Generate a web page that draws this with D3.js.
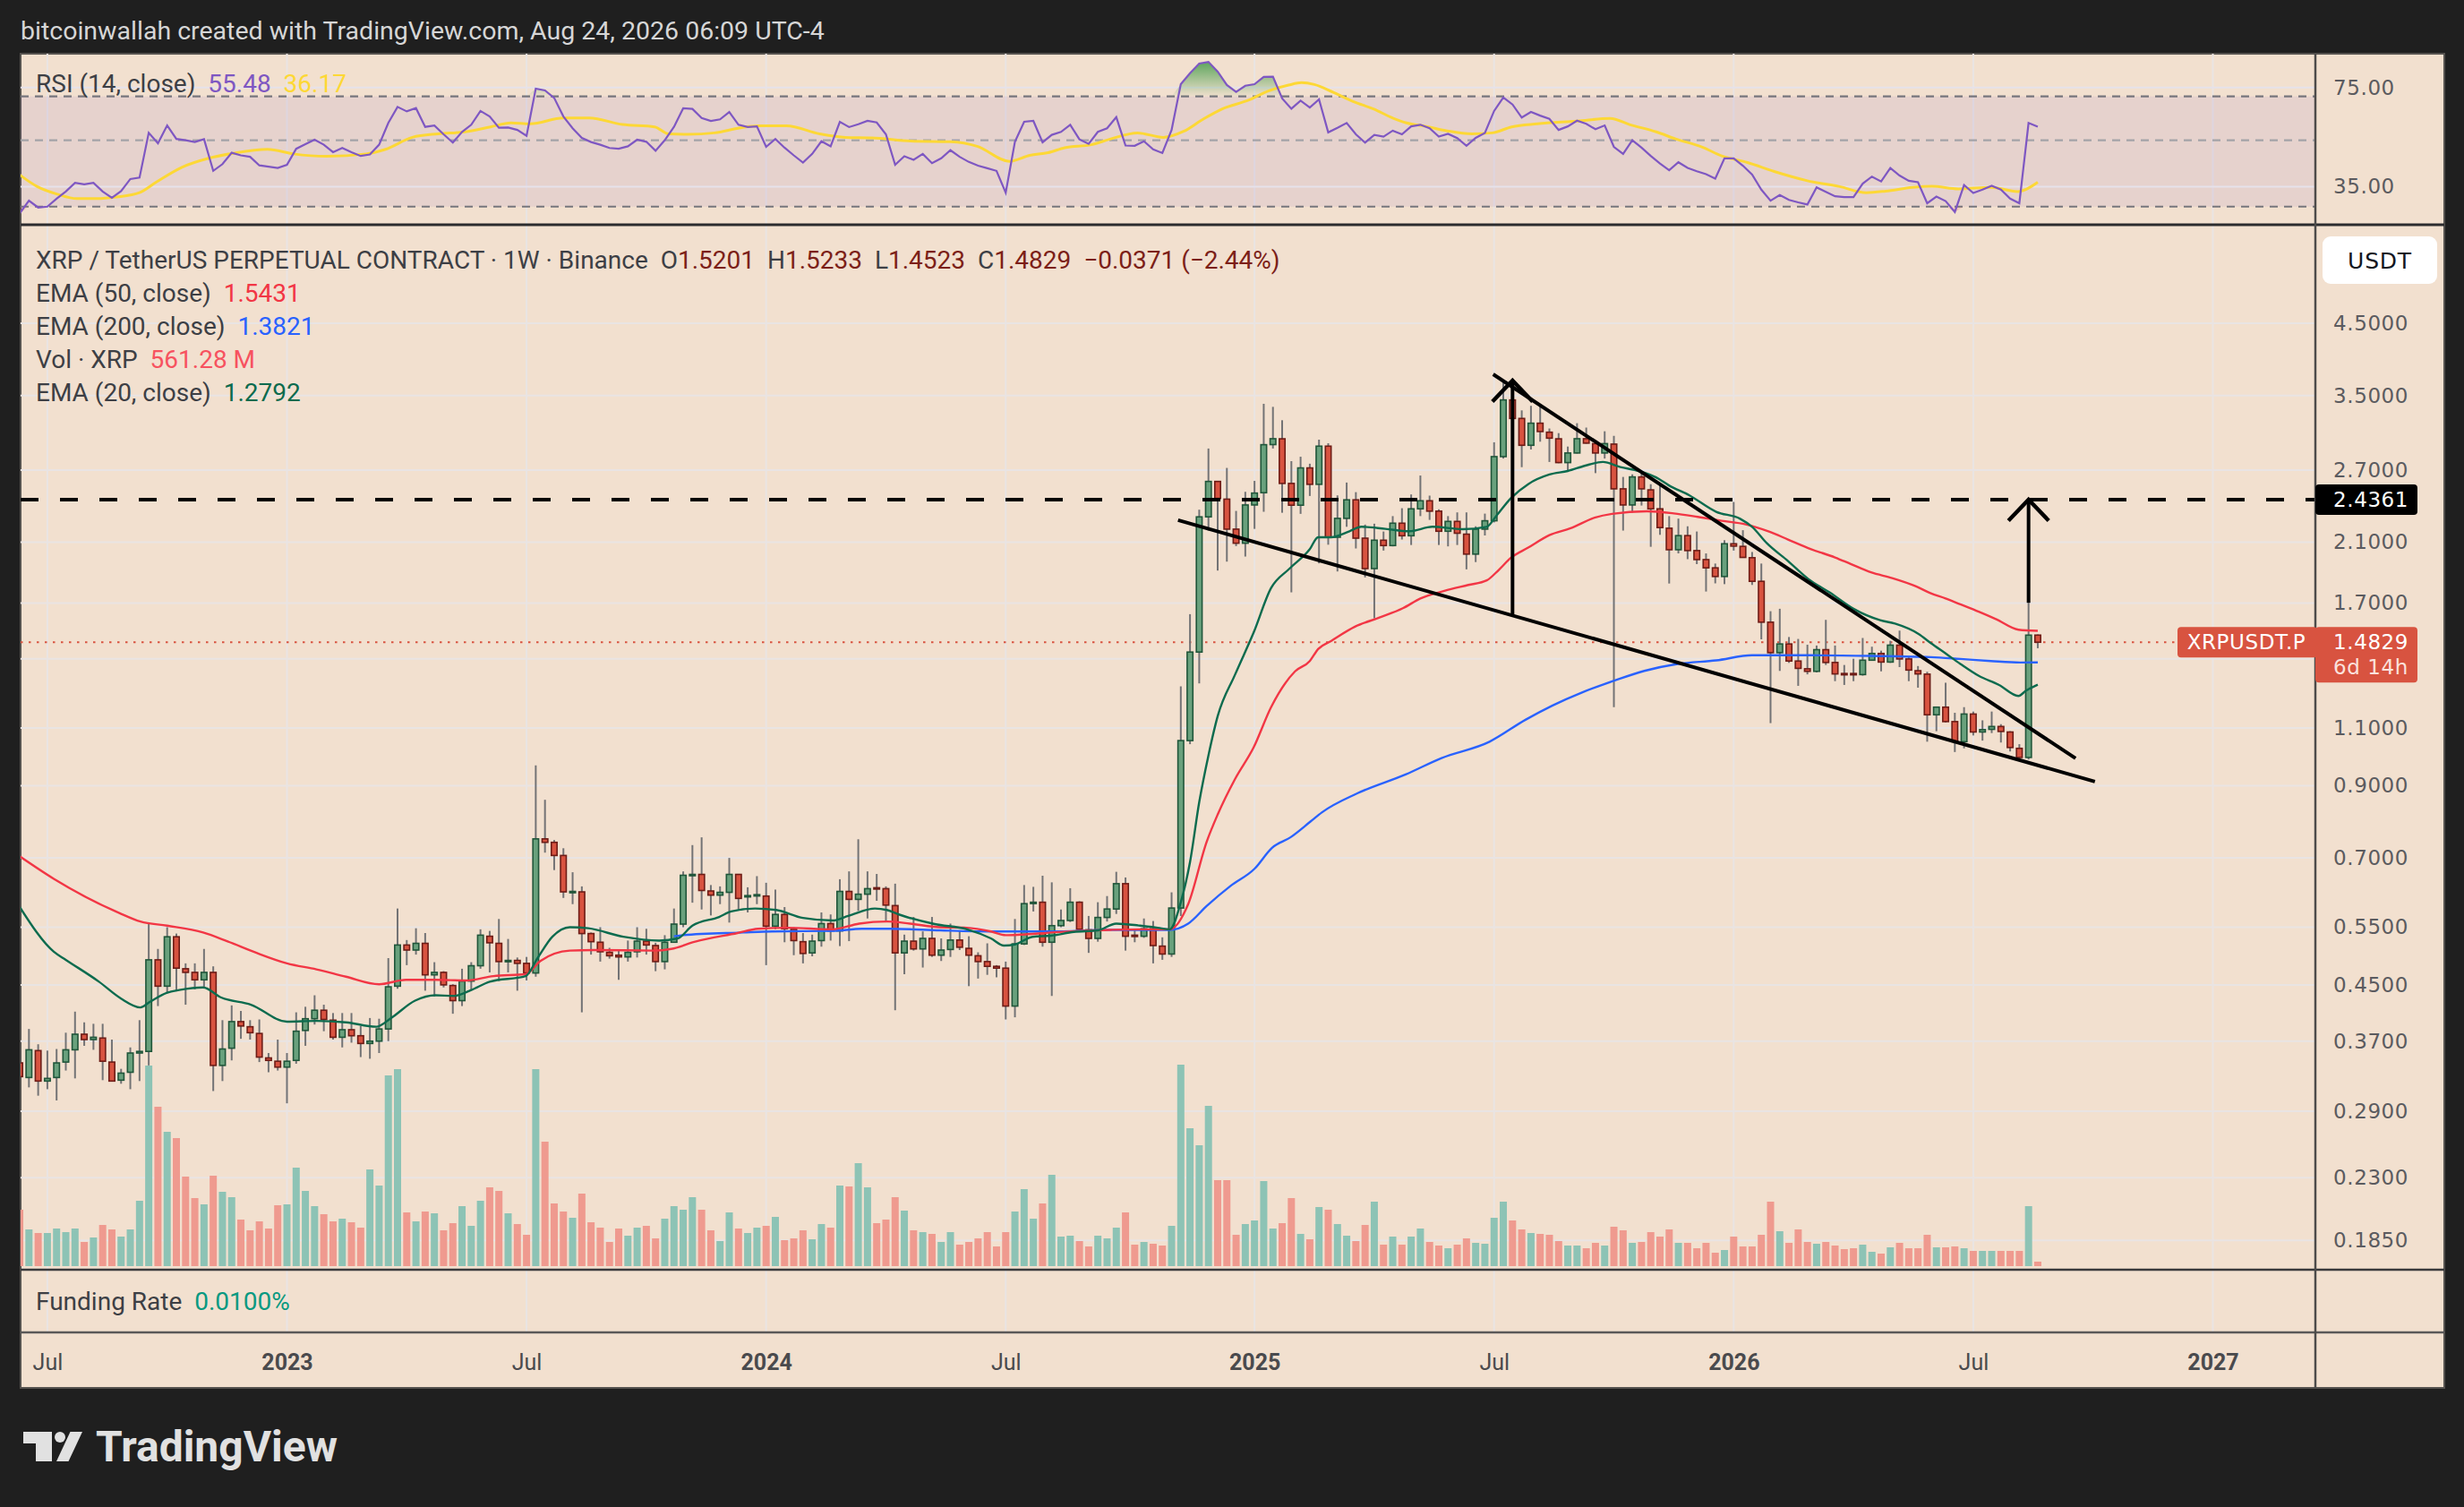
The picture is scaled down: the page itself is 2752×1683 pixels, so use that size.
<!DOCTYPE html>
<html>
<head>
<meta charset="utf-8">
<script src="https://cdn.jsdelivr.net/npm/d3@7"></script>
<style>
html, body { margin: 0; padding: 0; background: #1f1f1f; }
svg { display: block; }
</style>
</head>
<body>
<script>
var W = 2752, H = 1683;

// weekly candles, first bar week of 2022-06-13
var firstWeek = Date.UTC(2022, 5, 13);

var open = [
0.343,0.326,0.358,0.322,0.326,0.344,0.359,0.379,0.372,0.374,
0.344,0.323,0.332,0.355,0.357,0.491,0.448,0.532,0.476,0.470,
0.458,0.470,0.340,0.361,0.396,0.389,0.380,0.349,0.345,0.338,
0.346,0.384,0.400,0.412,0.398,0.375,0.385,0.377,0.367,0.370,
0.386,0.448,0.517,0.508,0.520,0.466,0.470,0.449,0.426,0.456,
0.481,0.533,0.520,0.488,0.490,0.485,0.469,0.748,0.739,0.706,
0.621,0.622,0.538,0.522,0.504,0.499,0.496,0.505,0.524,0.516,
0.488,0.522,0.556,0.659,0.661,0.624,0.615,0.621,0.661,0.612,
0.614,0.613,0.552,0.575,0.546,0.523,0.503,0.525,0.557,0.543,
0.623,0.606,0.617,0.631,0.629,0.593,0.503,0.524,0.510,0.529,
0.499,0.509,0.526,0.511,0.498,0.488,0.480,0.477,0.418,0.519,
0.598,0.600,0.522,0.553,0.563,0.600,0.545,0.529,0.569,0.586,
0.640,0.535,0.533,0.547,0.515,0.501,0.588,1.053,1.433,2.294,
2.595,2.440,2.198,2.093,2.391,2.495,2.950,3.010,2.577,2.389,
2.720,2.569,2.934,2.137,2.282,2.434,2.130,1.916,2.115,2.076,
2.244,2.148,2.359,2.426,2.340,2.182,2.258,2.160,2.015,2.198,
2.263,2.829,3.446,3.231,2.943,3.178,3.080,3.010,2.771,2.865,
3.011,2.960,2.865,2.955,2.529,2.391,2.636,2.520,2.359,2.205,
2.046,2.149,2.040,1.977,1.921,1.864,2.089,2.070,1.990,1.833,
1.590,1.430,1.474,1.389,1.352,1.340,1.445,1.382,1.330,1.330,
1.325,1.393,1.426,1.384,1.468,1.399,1.343,1.327,1.152,1.183,
1.125,1.049,1.155,1.085,1.095,1.106,1.085,1.025,0.993,1.5201];

var high = [
0.348,0.386,0.366,0.358,0.360,0.381,0.410,0.395,0.393,0.393,
0.372,0.336,0.362,0.398,0.557,0.510,0.550,0.538,0.485,0.485,
0.510,0.480,0.398,0.419,0.411,0.398,0.399,0.355,0.372,0.355,
0.409,0.417,0.434,0.420,0.408,0.408,0.408,0.390,0.401,0.400,
0.494,0.587,0.526,0.548,0.539,0.487,0.472,0.451,0.476,0.487,
0.546,0.543,0.566,0.528,0.495,0.496,0.966,0.857,0.745,0.724,
0.666,0.634,0.540,0.550,0.512,0.508,0.525,0.550,0.547,0.521,
0.535,0.587,0.668,0.732,0.752,0.637,0.634,0.700,0.662,0.632,
0.657,0.642,0.627,0.590,0.550,0.539,0.536,0.579,0.575,0.650,
0.668,0.747,0.668,0.662,0.634,0.640,0.536,0.570,0.542,0.570,
0.529,0.557,0.544,0.533,0.504,0.520,0.482,0.488,0.566,0.637,
0.633,0.658,0.643,0.585,0.630,0.602,0.572,0.600,0.613,0.667,
0.654,0.546,0.567,0.562,0.531,0.621,1.272,1.635,2.352,2.910,
2.600,2.720,2.342,2.503,2.600,3.400,3.364,3.211,2.785,2.828,
2.760,3.001,2.964,2.472,2.585,2.500,2.233,2.240,2.180,2.300,
2.364,2.480,2.649,2.470,2.355,2.300,2.330,2.330,2.220,2.320,
2.974,3.668,3.668,3.323,3.376,3.376,3.120,3.070,2.930,3.178,
3.130,2.990,3.090,3.040,2.636,2.660,2.690,2.570,2.580,2.300,
2.280,2.220,2.180,2.020,1.950,2.115,2.416,2.190,2.030,1.950,
1.652,1.666,1.510,1.500,1.470,1.466,1.603,1.466,1.370,1.400,
1.505,1.460,1.440,1.490,1.544,1.410,1.365,1.338,1.183,1.288,
1.160,1.183,1.165,1.130,1.165,1.115,1.088,1.040,1.701,1.5233];

var low = [
0.322,0.315,0.306,0.313,0.301,0.334,0.325,0.364,0.359,0.323,
0.322,0.319,0.313,0.322,0.340,0.418,0.437,0.440,0.420,0.443,
0.445,0.311,0.322,0.346,0.373,0.372,0.344,0.332,0.334,0.298,
0.342,0.364,0.392,0.383,0.372,0.362,0.368,0.350,0.348,0.355,
0.370,0.444,0.482,0.500,0.441,0.432,0.446,0.407,0.418,0.441,
0.476,0.470,0.456,0.470,0.441,0.457,0.463,0.713,0.671,0.609,
0.596,0.409,0.500,0.488,0.493,0.458,0.488,0.495,0.500,0.472,
0.475,0.521,0.550,0.599,0.585,0.573,0.596,0.559,0.585,0.579,
0.596,0.482,0.546,0.522,0.499,0.485,0.497,0.514,0.525,0.515,
0.524,0.582,0.567,0.603,0.560,0.412,0.467,0.507,0.478,0.496,
0.489,0.496,0.508,0.448,0.460,0.466,0.462,0.399,0.402,0.517,
0.581,0.514,0.433,0.550,0.560,0.545,0.503,0.523,0.561,0.576,
0.507,0.522,0.530,0.485,0.491,0.496,0.572,1.040,1.285,2.187,
1.903,1.963,2.072,1.998,2.200,2.335,2.910,2.327,1.764,2.318,
2.467,1.951,2.082,1.897,2.216,2.055,1.858,1.611,2.040,2.070,
2.120,2.080,2.300,2.270,2.080,2.070,2.080,1.911,1.960,2.150,
2.250,2.810,2.965,2.727,2.900,2.980,2.777,2.765,2.690,2.860,
2.960,2.671,2.810,1.183,2.187,2.328,2.386,2.067,2.155,1.819,
2.020,1.980,1.946,1.769,1.820,1.815,2.040,1.990,1.810,1.498,
1.119,1.342,1.380,1.274,1.326,1.335,1.370,1.295,1.278,1.295,
1.320,1.390,1.340,1.380,1.360,1.295,1.266,1.049,1.088,1.122,
1.012,1.025,1.072,1.053,1.081,1.046,1.014,0.986,0.986,1.4523];

var close = [
0.327,0.359,0.322,0.325,0.343,0.359,0.379,0.372,0.375,0.345,
0.322,0.331,0.355,0.357,0.491,0.448,0.532,0.477,0.470,0.458,
0.470,0.340,0.360,0.396,0.390,0.381,0.350,0.346,0.338,0.345,
0.383,0.400,0.412,0.399,0.375,0.385,0.377,0.367,0.370,0.386,
0.447,0.517,0.508,0.520,0.466,0.470,0.450,0.426,0.456,0.481,
0.535,0.521,0.488,0.490,0.485,0.469,0.748,0.739,0.706,0.622,
0.623,0.538,0.523,0.505,0.498,0.496,0.504,0.524,0.517,0.488,
0.522,0.556,0.659,0.661,0.625,0.615,0.621,0.661,0.608,0.614,
0.616,0.552,0.575,0.547,0.525,0.502,0.524,0.557,0.543,0.623,
0.606,0.617,0.629,0.629,0.594,0.503,0.524,0.510,0.529,0.499,
0.508,0.526,0.513,0.499,0.488,0.480,0.477,0.418,0.519,0.597,
0.600,0.522,0.553,0.563,0.600,0.546,0.529,0.569,0.586,0.640,
0.533,0.533,0.547,0.516,0.501,0.588,1.053,1.433,2.294,2.595,
2.446,2.198,2.093,2.391,2.492,2.949,3.011,2.577,2.389,2.720,
2.569,2.934,2.137,2.282,2.434,2.130,1.916,2.115,2.076,2.244,
2.148,2.359,2.426,2.340,2.182,2.258,2.167,2.015,2.198,2.263,
2.829,3.446,3.231,2.943,3.178,3.087,3.017,2.771,2.865,3.011,
2.965,2.865,2.960,2.529,2.391,2.636,2.529,2.359,2.210,2.046,
2.149,2.040,1.977,1.921,1.864,2.089,2.072,1.992,1.833,1.590,
1.430,1.474,1.389,1.354,1.340,1.445,1.382,1.328,1.325,1.325,
1.393,1.426,1.384,1.468,1.399,1.346,1.328,1.152,1.183,1.125,
1.049,1.155,1.085,1.094,1.106,1.087,1.028,0.993,1.520,1.4829];

// volume in millions of XRP
var volume = [
7069,4600,4151,4151,4712,4264,4712,3029,3590,5161,
4600,3703,4600,8191,25133,19972,16830,16045,11220,8527,
7742,11332,9313,8639,5834,4488,5610,4712,7630,7742,
12342,9425,7517,6508,5610,5947,5498,4825,12118,10098,
23899,24684,6732,5610,6844,6620,4488,5386,7517,5049,
8191,9874,9425,6620,5273,3927,24684,15596,7854,6844,
6059,9088,5498,4825,3029,4712,3815,4825,5049,3478,
5947,7517,7069,8639,7069,4488,3142,6732,4712,4151,
4825,5049,6171,3254,3478,4488,3366,5273,4825,10098,
9986,12903,9874,5386,5834,8639,6956,4488,4264,4039,
3029,4264,2693,3029,3478,4264,2468,4264,6844,9649,
5947,7854,11444,3703,3815,3142,2468,3815,3478,4825,
6732,2693,3029,2805,2581,5049,25245,17279,15147,20084,
10771,10771,3927,5273,5722,10659,4712,5386,8527,4039,
3366,7405,7069,5273,3815,3142,5161,8078,2693,3703,
2693,3703,4712,3029,2581,2244,2693,3478,2917,2805,
6059,8078,5722,4600,4151,4039,3927,3142,2581,2581,
2244,2917,2581,4937,4488,2917,3029,4264,3703,4600,
2917,2917,2244,2917,1683,2020,3703,2468,2468,3927,
8078,4376,2917,4600,3029,2805,3029,2581,2132,2244,
2693,1795,1571,2356,2917,2244,2244,3927,2356,2356,
2468,2244,1907,1907,1907,1907,1907,1907,7517,561.28];

var rsi = [
28.5,31.4,29.8,30.0,31.9,33.7,36.0,35.6,36.0,33.7,
32.1,33.8,37.1,37.5,52.9,48.8,56.0,50.5,50.0,49.3,
50.4,39.5,41.6,45.4,44.5,44.0,41.2,40.8,40.4,41.4,
46.8,48.5,50.2,48.3,45.6,47.1,45.6,44.3,44.8,48.3,
57.1,64.6,62.4,64.0,55.4,56.0,52.3,49.1,53.3,56.3,
62.6,60.0,55.0,55.1,54.1,51.7,74.3,73.3,69.2,60.0,
54.8,50.9,49.3,48.3,47.1,46.8,47.7,50.2,49.4,46.1,
50.0,55.4,63.9,63.6,59.3,58.0,58.7,62.1,56.3,55.3,
55.6,47.5,50.5,47.2,44.5,42.1,45.0,49.6,47.7,57.6,
55.3,56.5,58.0,57.3,52.3,41.4,44.2,43.0,45.0,41.9,
43.5,46.3,44.0,42.3,41.1,40.3,39.5,33.4,49.4,57.6,
58.0,49.2,52.1,53.3,56.3,50.3,48.6,53.3,54.8,59.7,
48.0,47.9,49.6,46.6,45.3,54.1,76.9,83.7,90.1,91.3,
84.7,76.4,72.5,76.0,76.9,81.3,81.5,68.9,63.7,67.8,
64.3,68.4,53.1,55.0,57.1,52.3,49.1,52.1,51.4,53.8,
52.3,55.6,56.3,54.8,51.4,52.5,50.8,47.9,50.9,52.9,
62.6,69.4,65.8,59.5,62.1,60.4,58.9,54.1,55.6,58.1,
56.7,54.4,56.0,47.5,45.0,50.0,47.2,44.3,41.8,39.7,
42.2,40.4,39.4,38.5,37.2,43.5,43.5,41.1,38.4,34.2,
31.4,32.8,31.6,31.0,30.5,34.8,33.6,32.5,32.3,32.3,
35.8,37.8,36.4,40.4,38.1,36.6,36.2,30.8,32.4,31.3,
28.8,35.4,33.3,34.2,35.2,34.2,31.9,30.8,57.1,55.48];

// [bar index, value]
var rsiMa = [[0,38.3],[1.9,35.0],[4.1,33.0],[6.2,31.9],[8.4,31.9],[10.5,32.3],[13,33.4],[14.8,36.2],[17.6,40.6],[20.5,43.5],
[23.3,45.3],[26.9,46.6],[29.7,45.0],[33.3,44.2],[37.6,45.0],[39.7,46.6],[42.6,51.1],[45.4,52.5],[48.3,53.3],[51.1,55.4],
[53.3,57.1],[55.4,56.7],[59,59.3],[61.8,59.3],[65.4,56.4],[68.9,55.4],[70.4,52.5],[72.5,52.3],[75.4,52.9],[78.2,55.0],
[80.3,55.8],[83.2,55.8],[86.8,52.5],[89.6,51.1],[92.5,50.9],[96.7,49.7],[101,49.4],[103.9,47.7],[107.4,42.5],[109.6,44.5],
[111.6,45.4],[113.4,47.2],[116.3,48.3],[118.4,50.5],[121.3,52.9],[124.1,51.1],[126.3,53.5],[128.4,58.7],[130.5,63.6],[133.4,68.1],
[135.5,73.0],[137.7,76.4],[139.1,77.8],[140.5,76.7],[142.6,72.1],[144.7,67.3],[146.9,63.6],[149,59.3],[150.5,57.1],[152.6,55.6],
[154.8,53.8],[157.6,52.5],[159.8,52.9],[161.9,55.4],[164.7,56.7],[169,57.9],[172.6,59.1],[174.7,56.4],[177.6,53.3],[179.7,50.5],
[182.6,47.4],[184.7,44.3],[187.5,42.1],[190.4,39.3],[194,36.6],[197.5,35.0],[200.4,33.4],[202.5,33.8],[205.4,34.8],[207.5,35.1],
[210.4,34.4],[213.9,34.8],[216.8,33.7],[219,36.17]];

var ema20 = [[0,0.590],[3.7,0.505],[5,0.491],[8.6,0.455],[11,0.429],[13.1,0.416],[14.1,0.424],[16,0.438],[17.3,0.442],[19.9,0.446],
[21.8,0.431],[25.1,0.420],[29,0.396],[32.2,0.397],[35.4,0.395],[38.7,0.389],[40.3,0.401],[42.9,0.426],[45.1,0.434],[47.1,0.433],
[49,0.442],[51,0.455],[54.9,0.464],[56.2,0.494],[57.8,0.532],[59.7,0.550],[61.7,0.548],[65.5,0.532],[69.4,0.525],[71.4,0.529],
[73,0.553],[75.9,0.570],[77.2,0.581],[79.8,0.587],[82.1,0.584],[85,0.568],[88.2,0.563],[89.9,0.572],[92.8,0.587],[94.1,0.584],
[95.4,0.575],[99.3,0.556],[102.8,0.546],[105.4,0.529],[106.8,0.516],[108,0.518],[109.9,0.532],[111.9,0.534],[114.4,0.541],[117,0.544],
[119,0.557],[121.6,0.553],[123.5,0.549],[124.8,0.546],[126,0.600],[127,0.690],[128,0.850],[129,1.000],[130,1.146],[131.9,1.326],
[133.9,1.533],[135.8,1.791],[137.8,1.916],[140,2.050],[140.9,2.137],[142.3,2.137],[144.3,2.182],[145.6,2.216],[148.2,2.200],[150.8,2.182],
[153.3,2.216],[156.6,2.198],[159.2,2.216],[160.2,2.298],[161.8,2.446],[163.7,2.571],[166,2.658],[168,2.691],[169.9,2.742],[171.8,2.777],
[173.7,2.728],[175.7,2.691],[177.9,2.617],[178.9,2.563],[181.2,2.472],[184.1,2.335],[186.7,2.279],[188,2.216],[189.6,2.093],[191.9,1.967],
[194.1,1.848],[196.4,1.764],[199,1.666],[201.9,1.601],[203.5,1.582],[206.1,1.525],[207.4,1.478],[209,1.426],[210.6,1.375],[212.6,1.319],
[214.8,1.278],[216.9,1.230],[217.7,1.252],[219,1.2792]];

var ema50 = [[0,0.704],[3.7,0.651],[10.8,0.578],[13.1,0.561],[16,0.553],[19.9,0.540],[22.5,0.524],[25.7,0.503],[29,0.485],[32.2,0.475],
[35.4,0.463],[39,0.451],[41.9,0.458],[45.1,0.458],[48.4,0.457],[51.4,0.464],[54.9,0.467],[56.5,0.489],[59.7,0.507],[62.3,0.508],
[68.8,0.507],[70.7,0.510],[73.3,0.523],[77.9,0.539],[80.1,0.547],[83.4,0.549],[88.2,0.546],[91.1,0.557],[94.1,0.561],[96.6,0.557],
[99.9,0.550],[102.8,0.549],[105.4,0.542],[107,0.535],[108.6,0.536],[111.9,0.540],[115.1,0.543],[118.4,0.545],[121.6,0.546],[124.8,0.546],
[126.8,0.596],[128.8,0.740],[130,0.814],[131.9,0.922],[133.9,1.028],[135.8,1.183],[138.4,1.340],[140,1.389],[140.9,1.448],[142.3,1.489],
[144.9,1.565],[147.5,1.615],[150.1,1.669],[152,1.727],[154.6,1.773],[157.2,1.810],[159.2,1.839],[160.5,1.907],[161.8,1.988],[163.7,2.061],
[166,2.153],[168.3,2.205],[170.9,2.287],[172.8,2.318],[176.6,2.339],[179.5,2.322],[182.1,2.294],[184.7,2.263],[187.3,2.235],[189.9,2.178],
[191.9,2.120],[194.4,2.050],[197,1.992],[198.7,1.947],[200.9,1.891],[203.2,1.854],[205.8,1.801],[207.4,1.758],[209,1.727],[210.6,1.692],
[212.6,1.649],[214.5,1.606],[216.9,1.549],[219,1.5431]];

var ema200 = [[71,0.533],[72,0.535],[78.5,0.540],[81.7,0.542],[88.2,0.543],[91.4,0.547],[94.6,0.547],[99.9,0.544],[105.4,0.542],[111.9,0.542],
[118.4,0.545],[124.8,0.545],[126.8,0.557],[128.8,0.592],[131.4,0.635],[134,0.674],[135.9,0.725],[137.9,0.752],[140.1,0.795],[141.3,0.820],
[145.2,0.877],[150.4,0.936],[154.3,0.991],[159.5,1.049],[163.4,1.132],[166.3,1.189],[169.6,1.246],[173.1,1.298],[176.3,1.342],[179.9,1.375],
[184.1,1.392],[188,1.417],[194.4,1.417],[200.9,1.414],[207.4,1.408],[210.6,1.399],[213.9,1.389],[217.1,1.382],[219,1.3821]];

// drawings: [bar index, price]
var lowerTrend = [[125.7, 2.268], [225.2, 0.913]];
var upperTrend = [[159.9, 3.768], [223.1, 0.99]];
var measureArrow = [[162, 1.632], [162, 3.686]];
var targetArrow = [[218, 1.701], [218, 2.4361]];
var targetLevel = 2.4361;
var lastPrice = 1.4829;

var priceTicks = [4.5, 3.5, 2.7, 2.1, 1.7, 1.1, 0.9, 0.7, 0.55, 0.45, 0.37, 0.29, 0.23, 0.185];
var priceGrid = [4.5, 3.5, 2.7, 2.1, 1.7, 1.4, 1.1, 0.9, 0.7, 0.55, 0.45, 0.37, 0.29, 0.23, 0.185];
var rsiTicks = [75, 35];
var timeTicks = ["2022-07-04", "2023-01-02", "2023-07-03", "2024-01-01", "2024-07-01", "2025-01-06", "2025-07-07", "2026-01-05", "2026-07-06", "2027-01-04"];
var timeLabels = ["Jul", "2023", "Jul", "2024", "Jul", "2025", "Jul", "2026", "Jul", "2027"];

// layout
var L = 23, R = 2586, AX = 2730;
var rsiTop = 60, rsiBot = 251, mainBot = 1418, fundBot = 1488, axBot = 1550;
var beige = "#f2e0cf", gridCol = "#e9e4e3";
var upFill = "#69a17d", upLine = "#20563a", dnFill = "#d85340", dnLine = "#6e1c16";
var txtFont = "Roboto, 'Liberation Sans', sans-serif";
var axFont = "'DejaVu Sans', sans-serif";

function barDate(n) { return new Date(firstWeek + n * 7 * 864e5); }
function parseDay(s) { var p = s.split("-"); return new Date(Date.UTC(+p[0], +p[1] - 1, +p[2])); }

var x = d3.scaleUtc()
    .domain([parseDay("2023-01-02"), parseDay("2027-01-04")])
    .range([320.5, 2471.5]);
var y = d3.scaleLog().domain([0.167, 6.34]).range([mainBot, rsiBot]);
var yR = d3.scaleLog().domain([26.1, 97.2]).range([rsiBot, rsiTop]);
var vol = d3.scaleLinear().domain([0, d3.max(volume)]).range([1414, 1414 - 225]);

var bars = open.map(function(o, i) {
  return {d: barDate(i), o: o, h: high[i], l: low[i], c: close[i], v: volume[i], up: close[i] >= o};
});

var svg = d3.select("body").append("svg")
    .attr("width", W)
    .attr("height", H);

svg.append("rect").attr("width", W).attr("height", H).attr("fill", "#1f1f1f");

svg.append("text")
    .attr("x", 23).attr("y", 34)
    .attr("dominant-baseline", "central")
    .attr("font-family", txtFont).attr("font-size", 28.5)
    .attr("fill", "#d6d6d6")
    .text("bitcoinwallah created with TradingView.com, Aug 24, 2026 06:09 UTC-4");

svg.append("rect")
    .attr("x", L).attr("y", rsiTop).attr("width", AX - L).attr("height", axBot - rsiTop)
    .attr("fill", beige).attr("stroke", "#55524f").attr("stroke-width", 2);

var defs = svg.append("defs");
defs.append("clipPath").attr("id", "clipMain").append("rect")
    .attr("x", L).attr("y", rsiBot).attr("width", R - L).attr("height", mainBot - rsiBot);
defs.append("clipPath").attr("id", "clipRsi").append("rect")
    .attr("x", L).attr("y", rsiTop).attr("width", R - L).attr("height", rsiBot - rsiTop);
defs.append("clipPath").attr("id", "clipOb").append("rect")
    .attr("x", L).attr("y", rsiTop).attr("width", R - L).attr("height", yR(70) - rsiTop);
defs.append("clipPath").attr("id", "clipOs").append("rect")
    .attr("x", L).attr("y", yR(30)).attr("width", R - L).attr("height", rsiBot - yR(30));

var ob = defs.append("linearGradient").attr("id", "obGrad")
    .attr("gradientUnits", "userSpaceOnUse").attr("x1", 0).attr("x2", 0).attr("y1", rsiTop + 8).attr("y2", yR(70));
ob.append("stop").attr("offset", 0).attr("stop-color", "#3f9a45").attr("stop-opacity", 0.85);
ob.append("stop").attr("offset", 1).attr("stop-color", "#3f9a45").attr("stop-opacity", 0.02);
var os = defs.append("linearGradient").attr("id", "osGrad")
    .attr("gradientUnits", "userSpaceOnUse").attr("x1", 0).attr("x2", 0).attr("y1", yR(30)).attr("y2", rsiBot);
os.append("stop").attr("offset", 0).attr("stop-color", "#e53935").attr("stop-opacity", 0.05);
os.append("stop").attr("offset", 1).attr("stop-color", "#e53935").attr("stop-opacity", 0.8);

// grid
var tDates = timeTicks.map(parseDay);
svg.append("g").selectAll("line").data(tDates).enter().append("line")
    .attr("x1", function(d) { return x(d); }).attr("x2", function(d) { return x(d); })
    .attr("y1", rsiTop).attr("y2", fundBot)
    .attr("stroke", gridCol).attr("stroke-width", 2);
svg.append("g").selectAll("line").data(priceGrid).enter().append("line")
    .attr("x1", L).attr("x2", R)
    .attr("y1", function(d) { return y(d); }).attr("y2", function(d) { return y(d); })
    .attr("stroke", gridCol).attr("stroke-width", 2);

// RSI pane
var rsiG = svg.append("g").attr("clip-path", "url(#clipRsi)");
rsiG.append("rect")
    .attr("x", L).attr("y", yR(70)).attr("width", R - L).attr("height", yR(30) - yR(70))
    .attr("fill", "#7e57c2").attr("fill-opacity", 0.1);
rsiG.selectAll(".rg").data(rsiTicks).enter().append("line")
    .attr("x1", L).attr("x2", R)
    .attr("y1", function(d) { return yR(d); }).attr("y2", function(d) { return yR(d); })
    .attr("stroke", "#e6e2ea").attr("stroke-width", 2);
[70, 50, 30].forEach(function(lv) {
  rsiG.append("line")
      .attr("x1", L).attr("x2", R).attr("y1", yR(lv)).attr("y2", yR(lv))
      .attr("stroke", lv === 50 ? "#a3a3a8" : "#77767d")
      .attr("stroke-width", 2.2)
      .attr("stroke-dasharray", "9,7");
});

var rsiPts = rsi.map(function(v, i) { return [i, v]; });
rsiG.append("path").datum(rsiPts)
    .attr("clip-path", "url(#clipOb)")
    .attr("fill", "url(#obGrad)")
    .attr("d", d3.area()
      .x(function(d) { return x(barDate(d[0])); })
      .y0(yR(70))
      .y1(function(d) { return yR(Math.max(d[1], 70)); }));
rsiG.append("path").datum(rsiPts)
    .attr("clip-path", "url(#clipOs)")
    .attr("fill", "url(#osGrad)")
    .attr("d", d3.area()
      .x(function(d) { return x(barDate(d[0])); })
      .y0(yR(30))
      .y1(function(d) { return yR(Math.min(d[1], 30)); }));

rsiG.append("path").datum(rsiMa)
    .attr("fill", "none").attr("stroke", "#fdd835").attr("stroke-width", 3)
    .attr("d", d3.line()
      .x(function(d) { return x(barDate(d[0])); })
      .y(function(d) { return yR(d[1]); })
      .curve(d3.curveMonotoneX));
rsiG.append("path").datum(rsiPts)
    .attr("fill", "none").attr("stroke", "#7e57c2").attr("stroke-width", 2.2)
    .attr("d", d3.line()
      .x(function(d) { return x(barDate(d[0])); })
      .y(function(d) { return yR(d[1]); }));

// main pane
var g = svg.append("g").attr("clip-path", "url(#clipMain)");

g.selectAll(".vol").data(bars).enter().append("rect")
    .attr("x", function(d) { return x(d.d) - 4; })
    .attr("width", 8)
    .attr("y", function(d) { return vol(d.v); })
    .attr("height", function(d) { return vol(0) - vol(d.v); })
    .attr("fill", function(d) { return d.up ? "#8dc3b5" : "#ef9a8f"; });

g.append("line")
    .attr("x1", L).attr("x2", 2432).attr("y1", y(lastPrice)).attr("y2", y(lastPrice))
    .attr("stroke", dnFill).attr("stroke-width", 2.2).attr("stroke-dasharray", "2.5,6.5");

g.selectAll(".wick").data(bars).enter().append("line")
    .attr("x1", function(d) { return x(d.d); }).attr("x2", function(d) { return x(d.d); })
    .attr("y1", function(d) { return y(d.h); }).attr("y2", function(d) { return y(d.l); })
    .attr("stroke", "#737375").attr("stroke-width", 2);

g.selectAll(".body").data(bars).enter().append("rect")
    .attr("x", function(d) { return x(d.d) - 3.2; })
    .attr("width", 6.4)
    .attr("y", function(d) { return y(Math.max(d.o, d.c)); })
    .attr("height", function(d) { return Math.max(1.5, y(Math.min(d.o, d.c)) - y(Math.max(d.o, d.c))); })
    .attr("fill", function(d) { return d.up ? upFill : dnFill; })
    .attr("stroke", function(d) { return d.up ? upLine : dnLine; })
    .attr("stroke-width", 1.6);

var emaLine = d3.line()
    .x(function(d) { return x(barDate(d[0])); })
    .y(function(d) { return y(d[1]); })
    .curve(d3.curveMonotoneX);
g.append("path").datum(ema200).attr("fill", "none").attr("stroke", "#2962ff").attr("stroke-width", 2.4).attr("d", emaLine);
g.append("path").datum(ema50).attr("fill", "none").attr("stroke", "#f23645").attr("stroke-width", 2.4).attr("d", emaLine);
g.append("path").datum(ema20).attr("fill", "none").attr("stroke", "#0c6b4e").attr("stroke-width", 2.4).attr("d", emaLine);

// drawings
var draw = d3.line()
    .x(function(d) { return x(barDate(d[0])); })
    .y(function(d) { return y(d[1]); });
g.append("line")
    .attr("x1", L).attr("x2", R).attr("y1", y(targetLevel)).attr("y2", y(targetLevel))
    .attr("stroke", "#000").attr("stroke-width", 4).attr("stroke-dasharray", "20,24");
[lowerTrend, upperTrend, measureArrow, targetArrow].forEach(function(seg) {
  g.append("path").datum(seg)
      .attr("fill", "none").attr("stroke", "#000").attr("stroke-width", 4)
      .attr("d", draw);
});
[measureArrow, targetArrow].forEach(function(seg) {
  var tx = x(barDate(seg[1][0])), ty = y(seg[1][1]);
  g.append("path")
      .attr("fill", "none").attr("stroke", "#000").attr("stroke-width", 4.5)
      .attr("stroke-linejoin", "miter")
      .attr("d", "M" + (tx - 22.5) + "," + (ty + 23.5) + "L" + tx + "," + ty + "L" + (tx + 22.5) + "," + (ty + 23.5));
});

// separators
svg.append("line").attr("x1", L).attr("x2", AX).attr("y1", rsiBot).attr("y2", rsiBot)
    .attr("stroke", "#2c2c2e").attr("stroke-width", 3);
svg.append("line").attr("x1", L).attr("x2", AX).attr("y1", mainBot).attr("y2", mainBot)
    .attr("stroke", "#3a3a3c").attr("stroke-width", 2.5);
svg.append("line").attr("x1", L).attr("x2", AX).attr("y1", fundBot).attr("y2", fundBot)
    .attr("stroke", "#5a5858").attr("stroke-width", 2.5);
svg.append("line").attr("x1", R).attr("x2", R).attr("y1", rsiTop).attr("y2", axBot)
    .attr("stroke", "#4d4b4a").attr("stroke-width", 2.5);

// axes
var pAxis = svg.append("g")
    .attr("transform", "translate(" + R + ",0)")
    .call(d3.axisRight(y).tickValues(priceTicks).tickFormat(d3.format(".4f")).tickSize(0).tickPadding(20));
pAxis.select(".domain").remove();
pAxis.selectAll("text").attr("font-family", axFont).attr("font-size", 23).attr("fill", "#5b5b5f")
    .attr("text-anchor", "start").attr("letter-spacing", 0.6);

var rAxis = svg.append("g")
    .attr("transform", "translate(" + R + ",0)")
    .call(d3.axisRight(yR).tickValues(rsiTicks).tickFormat(d3.format(".2f")).tickSize(0).tickPadding(20));
rAxis.select(".domain").remove();
rAxis.selectAll("text").attr("font-family", axFont).attr("font-size", 23).attr("fill", "#5b5b5f")
    .attr("letter-spacing", 0.6);

var tAxis = svg.append("g")
    .attr("transform", "translate(0," + fundBot + ")")
    .call(d3.axisBottom(x).tickValues(tDates).tickSize(0).tickPadding(24)
      .tickFormat(function(d, i) { return timeLabels[i]; }));
tAxis.select(".domain").remove();
tAxis.selectAll("text").attr("font-family", txtFont).attr("font-size", 25).attr("fill", "#4a4a4d")
    .attr("font-weight", function(d, i) { return timeLabels[i] === "Jul" ? 400 : 700; });

// price labels on the scale
svg.append("rect").attr("x", 2594).attr("y", 264).attr("width", 128).attr("height", 53).attr("rx", 9)
    .attr("fill", "#ffffff");
svg.append("text").attr("x", 2658).attr("y", 291).attr("text-anchor", "middle").attr("dominant-baseline", "central")
    .attr("font-family", axFont).attr("font-size", 25).attr("fill", "#131722").attr("letter-spacing", 0.8).text("USDT");

svg.append("rect").attr("x", R).attr("y", y(targetLevel) - 17).attr("width", 114).attr("height", 34).attr("rx", 4)
    .attr("fill", "#000");
svg.append("text").attr("x", 2606).attr("y", y(targetLevel)).attr("dominant-baseline", "central")
    .attr("font-family", axFont).attr("font-size", 23).attr("fill", "#fff").attr("letter-spacing", 0.6)
    .text(d3.format(".4f")(targetLevel));

svg.append("rect").attr("x", 2432).attr("y", y(lastPrice) - 17).attr("width", 156).attr("height", 34).attr("rx", 4)
    .attr("fill", dnFill);
svg.append("text").attr("x", 2509).attr("y", y(lastPrice)).attr("text-anchor", "middle").attr("dominant-baseline", "central")
    .attr("font-family", axFont).attr("font-size", 23).attr("fill", "#fff").attr("letter-spacing", 0.6).text("XRPUSDT.P");
svg.append("rect").attr("x", R).attr("y", y(lastPrice) - 17).attr("width", 114).attr("height", 62).attr("rx", 4)
    .attr("fill", dnFill);
svg.append("text").attr("x", 2606).attr("y", y(lastPrice)).attr("dominant-baseline", "central")
    .attr("font-family", axFont).attr("font-size", 23).attr("fill", "#fff").attr("letter-spacing", 0.6)
    .text(d3.format(".4f")(lastPrice));
svg.append("text").attr("x", 2606).attr("y", y(lastPrice) + 28).attr("dominant-baseline", "central")
    .attr("font-family", axFont).attr("font-size", 23).attr("fill", "#fbe2dd").attr("letter-spacing", 0.6)
    .text("6d 14h");

// legends
function legend(yy, parts) {
  var t = svg.append("text").attr("x", 40).attr("y", yy).attr("dominant-baseline", "central")
      .attr("font-family", txtFont).attr("font-size", 28).attr("xml:space", "preserve");
  parts.forEach(function(p) {
    t.append("tspan").attr("fill", p[1]).text(p[0]);
  });
}
var lg = "#3d3f45", ohlc = "#7c1f18";
legend(93, [["RSI (14, close)  ", lg], ["55.48", "#7e57c2"], ["  36.17", "#fdd835"]]);
legend(290, [["XRP / TetherUS PERPETUAL CONTRACT · 1W · Binance  ", lg],
  ["O", lg], ["1.5201  ", ohlc], ["H", lg], ["1.5233  ", ohlc], ["L", lg], ["1.4523  ", ohlc],
  ["C", lg], ["1.4829  ", ohlc], ["−0.0371 (−2.44%)", ohlc]]);
legend(327, [["EMA (50, close)  ", lg], ["1.5431", "#f23645"]]);
legend(364, [["EMA (200, close)  ", lg], ["1.3821", "#2962ff"]]);
legend(401, [["Vol · XRP  ", lg], ["561.28 M", "#f7525f"]]);
legend(438, [["EMA (20, close)  ", lg], ["1.2792", "#0c6b4e"]]);
legend(1453, [["Funding Rate  ", lg], ["0.0100%", "#089981"]]);

// TradingView mark
var logo = svg.append("g").attr("fill", "#e1e1e1");
logo.append("path").attr("d", "M26,1599H58V1632H40V1612H26Z");
logo.append("circle").attr("cx", 67).attr("cy", 1605).attr("r", 6);
logo.append("path").attr("d", "M63,1632L78.5,1599H92L76.5,1632Z");
svg.append("text").attr("x", 107).attr("y", 1632)
    .attr("font-family", txtFont).attr("font-size", 48).attr("font-weight", 700)
    .attr("fill", "#e1e1e1").text("TradingView");
</script>
</body>
</html>
